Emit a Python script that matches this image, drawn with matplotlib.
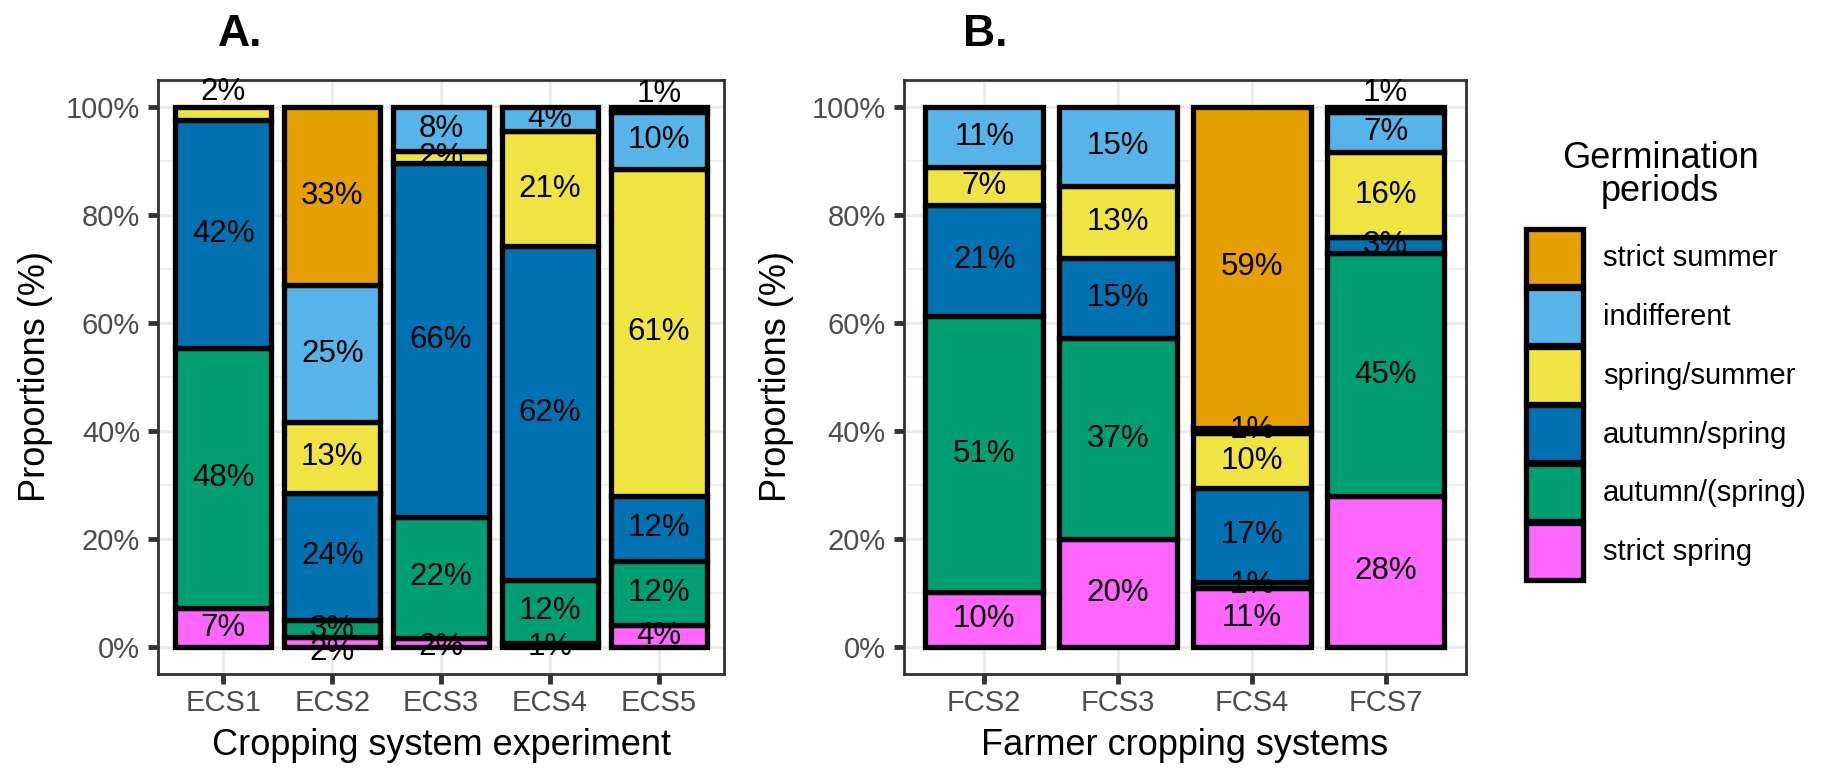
import numpy as np
import matplotlib.pyplot as plt
from matplotlib.patches import Patch
from matplotlib.ticker import FuncFormatter, MultipleLocator

plt.rcParams['font.family'] = ['Liberation Sans', 'DejaVu Sans']

# germination periods, stacked from bottom to top
periods = ['strict spring', 'autumn/(spring)', 'autumn/spring',
           'spring/summer', 'indifferent', 'strict summer']
colors = ['#FF66FF', '#009E73', '#0072B2', '#F0E442', '#56B4E9', '#E69F00']

# A. cropping system experiment (%)
ecs_names = ['ECS1', 'ECS2', 'ECS3', 'ECS4', 'ECS5']
ecs_strict_spring = [7.2, 1.8, 1.7, 0.8, 4.1]
ecs_autumn_spring_p = [48.1, 3.2, 22.4, 11.6, 11.8]
ecs_autumn_spring = [42.3, 23.6, 65.6, 61.8, 12.1]
ecs_spring_summer = [2.4, 13.0, 2.2, 21.4, 60.6]
ecs_indifferent = [0, 25.4, 8.1, 4.4, 10.4]
ecs_strict_summer = [0, 33.0, 0, 0, 1.0]

# B. farmer cropping systems (%)
fcs_names = ['FCS2', 'FCS3', 'FCS4', 'FCS7']
fcs_strict_spring = [10.2, 20.0, 10.9, 28.0]
fcs_autumn_spring_p = [51.1, 37.2, 1.2, 44.9]
fcs_autumn_spring = [20.6, 14.8, 17.3, 3.0]
fcs_spring_summer = [7.0, 13.4, 10.2, 15.7]
fcs_indifferent = [11.1, 14.6, 1.0, 7.4]
fcs_strict_summer = [0, 0, 59.4, 1.0]

# small labels that were pushed off their segment in the original
label_nudge = {('ECS1', 'spring/summer'): 4.0,
               ('ECS5', 'strict summer'): 3.0,
               ('FCS7', 'strict summer'): 3.1,
               ('ECS2', 'strict spring'): -1.9,
               ('ECS3', 'strict spring'): -0.9,
               ('ECS4', 'strict spring'): -0.4}

ecs_table = [ecs_strict_spring, ecs_autumn_spring_p, ecs_autumn_spring,
             ecs_spring_summer, ecs_indifferent, ecs_strict_summer]
fcs_table = [fcs_strict_spring, fcs_autumn_spring_p, fcs_autumn_spring,
             fcs_spring_summer, fcs_indifferent, fcs_strict_summer]

EDGE = 3.8
W, H = 1821, 770


def draw_panel(ax, names, table, letter, xlabel, ylab_x):
    x = np.arange(len(names))
    bottom = np.zeros(len(names))
    for period, color, vals in zip(periods, colors, table):
        vals = np.asarray(vals, dtype=float)
        keep = vals > 0
        ax.bar(x[keep], vals[keep], bottom=bottom[keep], width=0.88,
               color=color, edgecolor='black', linewidth=EDGE, zorder=2)
        for xi, b, v, name in zip(x, bottom, vals, names):
            if v > 0:
                y = b + v / 2 + label_nudge.get((name, period), 0)
                ax.text(xi, y, f'{v:.0f}%', ha='center', va='center',
                        fontsize=22.5, color='black', zorder=3)
        bottom += vals

    ax.set_xlim(-0.6, len(names) - 0.4)
    ax.set_ylim(-5, 105)
    ax.set_xticks(x)
    ax.set_xticklabels(names)
    ax.yaxis.set_major_locator(MultipleLocator(20))
    ax.yaxis.set_minor_locator(MultipleLocator(10))
    ax.yaxis.set_major_formatter(FuncFormatter(lambda v, p: f'{v:.0f}%'))
    ax.grid(which='major', color='#EBEBEB', linewidth=2.2, zorder=0)
    ax.grid(which='minor', axis='y', color='#EBEBEB', linewidth=1.1, zorder=0)
    ax.set_axisbelow(True)
    ax.tick_params(which='major', labelsize=21, labelcolor='#4D4D4D',
                   color='#333333', width=3.5, length=7.5)
    ax.tick_params(axis='y', pad=5.5)
    ax.tick_params(axis='x', pad=3)
    ax.tick_params(which='minor', length=0)
    for sp in ax.spines.values():
        sp.set_color('#333333')
        sp.set_linewidth(2)

    ax.set_ylabel('Proportions (%)', fontsize=26)
    ax.yaxis.label.set_verticalalignment('center')
    ax.yaxis.set_label_coords(ylab_x, 0.5)
    ax.set_xlabel(xlabel, fontsize=26)
    ax.xaxis.label.set_verticalalignment('center')
    ax.xaxis.set_label_coords(0.5, -0.12)

    ax.text(0.105, 1.076, letter, transform=ax.transAxes, fontsize=32,
            fontweight='bold', ha='left', va='center')


fig = plt.figure(figsize=(W / 100, H / 100), dpi=100)
ax_a = fig.add_axes([0.0868, 0.1247, 0.3108, 0.7714])
ax_b = fig.add_axes([0.4964, 0.1247, 0.3086, 0.7714])

draw_panel(ax_a, ecs_names, ecs_table, 'A.', 'Cropping system experiment', -0.217)
draw_panel(ax_b, fcs_names, fcs_table, 'B.', 'Farmer cropping systems', -0.226)

# legend: keys from top (strict summer) to bottom (strict spring)
handles = [Patch(facecolor=c, edgecolor='black', linewidth=EDGE, label=p)
           for p, c in zip(periods, colors)][::-1]
fig.legend(handles=handles, loc='upper left',
           bbox_to_anchor=(1526 / W, 1 - 229 / H),
           frameon=False, fontsize=21,
           handlelength=1.954, handleheight=2.63, labelspacing=0.06,
           handletextpad=0.69, borderpad=0, borderaxespad=0)
fig.text(1660 / W, 1 - 175 / H, 'Germination\nperiods', fontsize=26,
         ha='center', va='center', multialignment='center', linespacing=0.95)

fig.savefig('out.png', dpi=100)
